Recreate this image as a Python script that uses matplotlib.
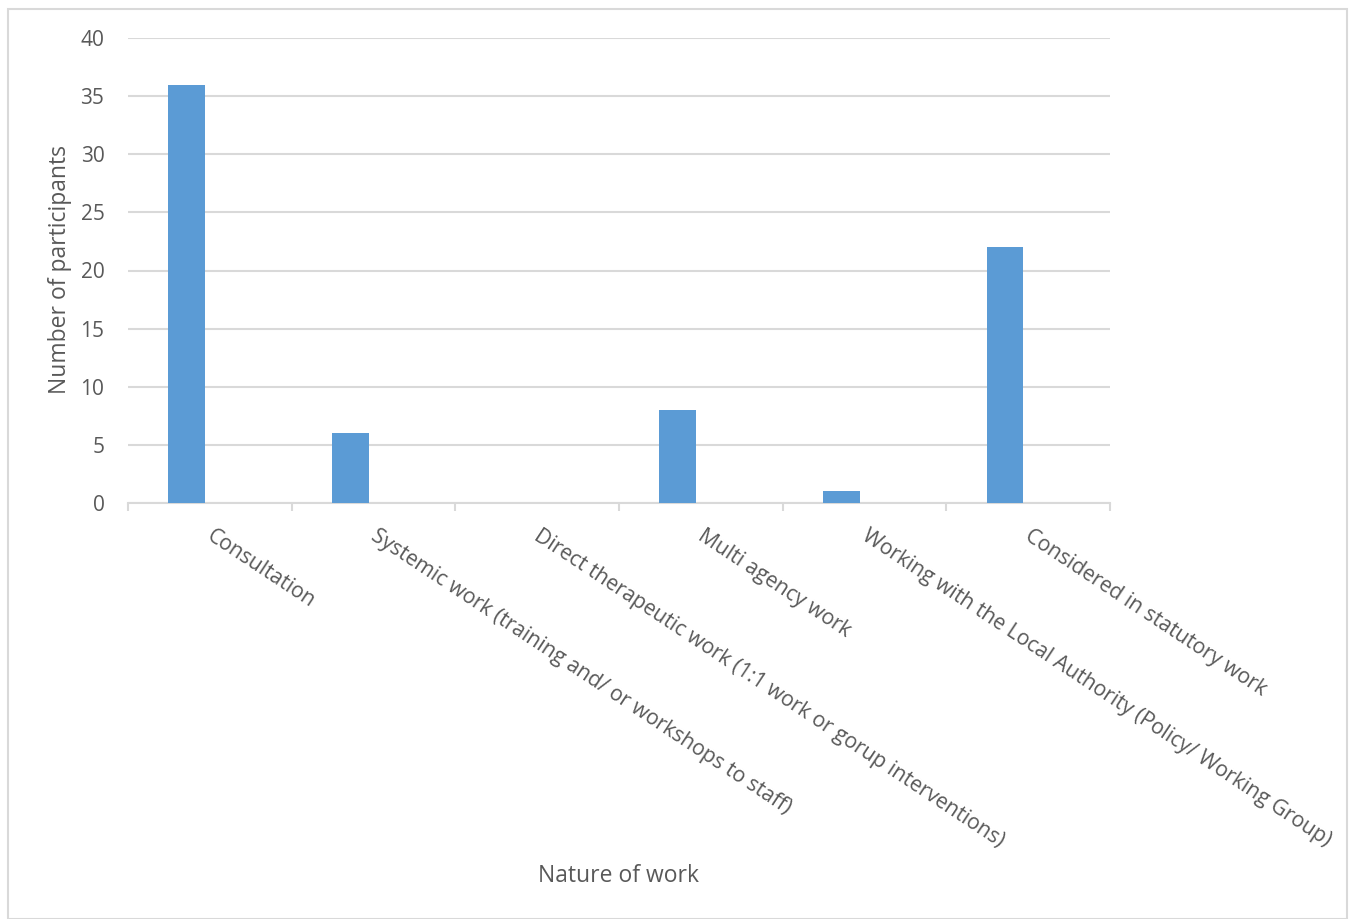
import matplotlib.pyplot as plt
from matplotlib.patches import Rectangle
from matplotlib.ticker import FixedLocator

categories = ['Consultation',
              'Systemic work (training and/ or workshops to staff)',
              'Direct therapeutic work (1:1 work or gorup interventions)',
              'Multi agency work',
              'Working with the Local Authority (Policy/ Working Group)',
              'Considered in statutory work']
participants = [36, 6, 0, 8, 1, 22]
y_ticks = [0, 5, 10, 15, 20, 25, 30, 35, 40]

bar_color = '#5B9BD5'
grid_color = '#D9D9D9'
text_color = '#595959'

plt.rcParams['font.family'] = ['Open Sans', 'DejaVu Sans']

fig = plt.figure(figsize=(13.55, 9.19), dpi=100)
ax = fig.add_axes([128 / 1355, 1 - 503 / 919, (1110 - 128) / 1355, (503 - 38) / 919])

x = list(range(len(categories)))
# bars sit left of slot centre, as in the excel clustered layout
ax.bar([i - 0.142 for i in x], participants, width=0.224, color=bar_color, zorder=3)

ax.set_xlim(-0.5, len(categories) - 0.5)
ax.set_ylim(0, 40)
ax.set_yticks(y_ticks)
ax.yaxis.grid(True, color=grid_color, linewidth=1.5, zorder=0)
ax.tick_params(axis='y', length=0, labelsize=15, labelcolor=text_color, pad=17)

ax.set_xticks([i + 0.03 for i in x])
ax.set_xticklabels(categories, rotation=-33.5, ha='left', va='top', rotation_mode='anchor',
                   fontsize=15.2, color=text_color)
ax.tick_params(axis='x', which='major', length=0, pad=16)
ax.xaxis.set_minor_locator(FixedLocator([i - 0.5 for i in range(len(categories) + 1)]))
ax.tick_params(axis='x', which='minor', length=6, width=1.5, color=grid_color)

for side in ['top', 'right', 'left']:
    ax.spines[side].set_visible(False)
ax.spines['bottom'].set_color(grid_color)
ax.spines['bottom'].set_linewidth(1.5)

fig.text(60 / 1355, 1 - 270 / 919, 'Number of participants', rotation=90,
         ha='center', va='center', fontsize=16.5, color=text_color)
fig.text(619 / 1355, 1 - 876 / 919, 'Nature of work', ha='center', va='center',
         fontsize=16.5, color=text_color)

fig.patches.append(Rectangle((8 / 1355, 0), (1347 - 8) / 1355, 1 - 9 / 919,
                             transform=fig.transFigure, fill=False,
                             edgecolor=grid_color, linewidth=1.5))

fig.savefig('out.png', dpi=100)
